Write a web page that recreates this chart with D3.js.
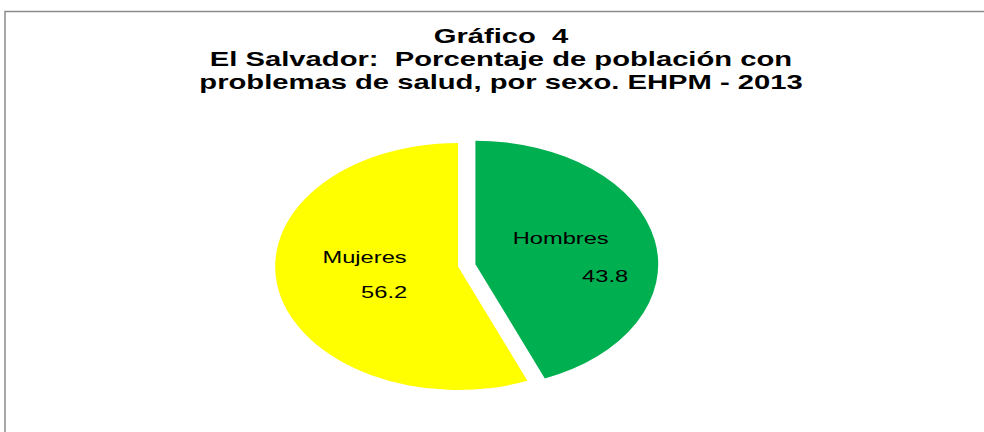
<!DOCTYPE html>
<html>
<head>
<meta charset="utf-8">
<script src="https://cdn.jsdelivr.net/npm/d3@7"></script>
<style>
  html, body { margin: 0; padding: 0; background: #fff; }
  svg { display: block; font-family: "Liberation Sans", Arial, sans-serif; }
  text { white-space: pre; }
</style>
</head>
<body>
<div id="chart"></div>
<script>
// data
const categories = ['Hombres', 'Mujeres'];
const values = [43.8, 56.2];
const titleLines = ['Gráfico  4', 'El Salvador:  Porcentaje de población con', 'problemas de salud, por sexo. EHPM - 2013'];

// layout
const width = 984, height = 432;
const colors = d3.scaleOrdinal().domain(categories).range(['#00B050', '#FFFF00']);
const stretch = 1.48;           // the original picture is widened horizontally
const radius = 123.5;
const center = [458, 266.5];
const explode = { Hombres: 12, Mujeres: 0 };
const labelRadius = 0.55 * radius;
// small nudges of [name, value] from the label centroid, in unstretched px
const labelNudge = {
    Hombres: [[-9, -7], [21, 31]],
    Mujeres: [[3.5, -16.7], [16.7, 18.3]]
};

const svg = d3.select('#chart')
    .append('svg')
    .attr('width', width)
    .attr('height', height);

// frame of the chart area (runs off to the right and bottom)
svg.append('rect')
    .attr('x', 5).attr('y', 11.5)
    .attr('width', width + 20).attr('height', height + 20)
    .attr('fill', 'none')
    .attr('stroke', '#8a8a8a')
    .attr('stroke-width', 1.5);

// title
const title = svg.append('g')
    .attr('transform', `translate(501,0) scale(1.46,1)`);

title.selectAll('text')
    .data(titleLines)
    .enter().append('text')
    .attr('x', 0)
    .attr('y', (d, i) => 43.5 + i * 23)
    .attr('text-anchor', 'middle')
    .attr('font-size', '20px')
    .attr('font-weight', 'bold')
    .attr('fill', '#000')
    .attr('xml:space', 'preserve')
    .text(d => d);

// pie
const pie = d3.pie().sort(null).value(d => d.value);
const arcs = pie(categories.map((c, i) => ({ name: c, value: values[i] })));

const arc = d3.arc().innerRadius(0).outerRadius(radius);
const labelArc = d3.arc().innerRadius(labelRadius).outerRadius(labelRadius);

const g = svg.append('g')
    .attr('transform', `translate(${center[0]},${center[1]}) scale(${stretch},1)`);

const slice = g.selectAll('.slice')
    .data(arcs)
    .enter().append('g')
    .attr('class', 'slice')
    .attr('transform', d => {
        const mid = (d.startAngle + d.endAngle) / 2;
        const e = explode[d.data.name];
        return `translate(${Math.sin(mid) * e},${-Math.cos(mid) * e})`;
    });

slice.append('path')
    .attr('d', arc)
    .attr('fill', d => colors(d.data.name));

slice.each(function(d) {
    const group = d3.select(this);
    const [cx, cy] = labelArc.centroid(d);
    const nudge = labelNudge[d.data.name];
    group.append('text')
        .attr('x', cx + nudge[0][0])
        .attr('y', cy + nudge[0][1])
        .attr('text-anchor', 'middle')
        .attr('font-size', '16px')
        .attr('fill', '#000')
        .text(d.data.name);
    group.append('text')
        .attr('x', cx + nudge[1][0])
        .attr('y', cy + nudge[1][1])
        .attr('text-anchor', 'middle')
        .attr('font-size', '16px')
        .attr('fill', '#000')
        .text(d3.format('.1f')(d.data.value));
});
</script>
</body>
</html>
